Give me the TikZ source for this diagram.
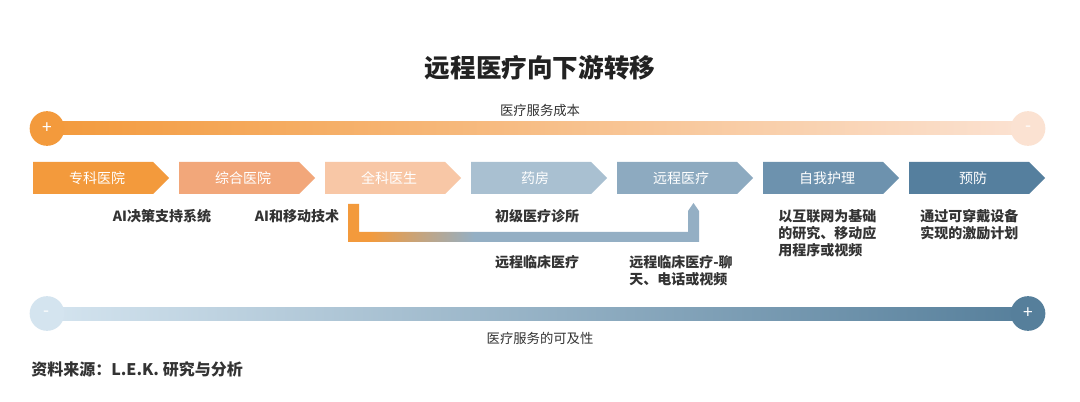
\documentclass[tikz,border=0pt]{standalone}
\usepackage{fontspec}
\setmainfont{Noto Sans CJK SC}
\usepackage{xcolor}
\usepackage{tikz}
\usetikzlibrary{calc}
\definecolor{cStep1}{HTML}{F39A3C}
\definecolor{cStep2}{HTML}{F2A77A}
\definecolor{cStep3}{HTML}{F8C7A6}
\definecolor{cStep4}{HTML}{A9C0D1}
\definecolor{cStep5}{HTML}{8DAAC0}
\definecolor{cStep6}{HTML}{6D92AE}
\definecolor{cStep7}{HTML}{557F9E}
\definecolor{cCostMid}{HTML}{F6B485}
\definecolor{cCostLo}{HTML}{FBE2D2}
\definecolor{cAccLo}{HTML}{D4E4EF}
\definecolor{cAccMid}{HTML}{93B2C8}
\definecolor{cAccHi}{HTML}{567F9B}
\definecolor{cBkBlue}{HTML}{94AFC4}
\definecolor{cTxt}{HTML}{333333}
\definecolor{cTitle}{HTML}{222222}
\pgfdeclarehorizontalshading{bracketshade}{100bp}{color(0bp)=(cStep1); color(28bp)=(cStep1); color(43bp)=(cBkBlue); color(100bp)=(cBkBlue)}

\begin{document}
\begin{tikzpicture}[x=0.75pt,y=-0.75pt,
  chev/.style={font=\fontsize{10.5}{12}\selectfont,text=white,inner sep=0pt},
  lbl/.style={font=\bfseries\fontsize{10.5}{12.75}\selectfont,text=cTxt,inner sep=0pt,align=left},
  dot/.style={circle,minimum size=26pt,inner sep=0pt,text=white,font=\fontsize{13}{13}\selectfont},
  barlbl/.style={font=\fontsize{10}{12}\selectfont,text=cTxt,inner sep=0pt}]

  \useasboundingbox (0,0) rectangle (1080,402);
  \fill[white] (0,0) rectangle (1080,402);

  \node[font=\bfseries\fontsize{19.2}{22}\selectfont,text=cTitle] (title) at (540,68) {远程医疗向下游转移};

  % cost of care
  \node[barlbl] (costlbl) at (540,110) {医疗服务成本};
  \shade[left color=cStep1,middle color=cCostMid,right color=cCostLo] (47,122) rectangle (1028,135);
  \node[dot,fill=cStep1] (costHi) at (47,128.5) {+};
  \node[dot,fill=cCostLo] (costLo) at (1028,128.5) {-};

  % the care settings
  \foreach \i/\f/\t in {0/cStep1/专科医院,1/cStep2/综合医院,2/cStep3/全科医生,3/cStep4/药房,
      4/cStep5/远程医疗,5/cStep6/自我护理,6/cStep7/预防}
    {\fill[\f] (33+146*\i,162) -- ++(120,0) -- ++(16,16) -- ++(-16,16) -- ++(-120,0) -- cycle;
     \node[chev] (s\i) at (97+146*\i,178) {\t};}

  \node[lbl] (aiDec) at (162,216) {AI决策支持系统};
  \node[lbl] (aiMob) at (297,216) {AI和移动技术};
  \node[lbl] (clinic) at (537,216) {初级医疗诊所};
  \node[lbl] (teleA) at (537,262) {远程临床医疗};
  \node[lbl,anchor=north west] (teleB) at (629,255) {远程临床医疗-聊\\天、电话或视频};
  \node[lbl,anchor=north west] (selfc) at (778,209) {以互联网为基础\\的研究、移动应\\用程序或视频};
  \node[lbl,anchor=north west] (prev) at (920,209) {通过可穿戴设备\\实现的激励计划};

  % primary care bracket
  \coordinate (bkL) at (353.5,204);
  \coordinate (bkR) at (693.5,203);
  \shade[shading=bracketshade] ($(bkL)+(-5.5,0)$) -- ++(11,0) |- ($(bkR)+(-5.5,29)$)
    -- ($(bkR)+(-5.5,8)$) -- (bkR) -- ($(bkR)+(5.5,8)$) -- ($(bkR)+(5.5,39)$) -| cycle;

  % access to care
  \shade[left color=cAccLo,middle color=cAccMid,right color=cAccHi] (47,307) rectangle (1028,320);
  \node[dot,fill=cAccLo] (accLo) at (47,313.5) {-};
  \node[dot,fill=cAccHi] (accHi) at (1028,313.5) {+};
  \node[barlbl] (acclbl) at (540,338) {医疗服务的可及性};

  \node[font=\bfseries\fontsize{12}{14}\selectfont,text=cTxt,anchor=west,inner sep=0pt] (src) at (31,369) {资料来源：L.E.K. 研究与分析};
\end{tikzpicture}
\end{document}
